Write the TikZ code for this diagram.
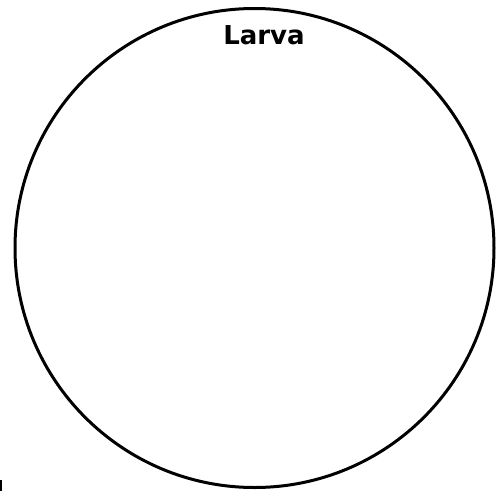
\documentclass[tikz,border=0pt]{standalone}
\usepackage{fontspec}
\setmainfont{DejaVu Sans}
\begin{document}
\begin{tikzpicture}[x=1pt,y=-1pt,
  ring/.style={draw=black,line width=3pt},
  lbl/.style={font=\bfseries\fontsize{26}{30}\selectfont,inner sep=0pt}]
\useasboundingbox (0,0) rectangle (499,491);
\node[ring,circle,minimum size=479pt,inner sep=0pt] (c) at (254.5,248) {};
\node[lbl] (t) at (264,35) {Larva};
\fill[black] (0,480) rectangle (2,491);
\end{tikzpicture}
\end{document}
